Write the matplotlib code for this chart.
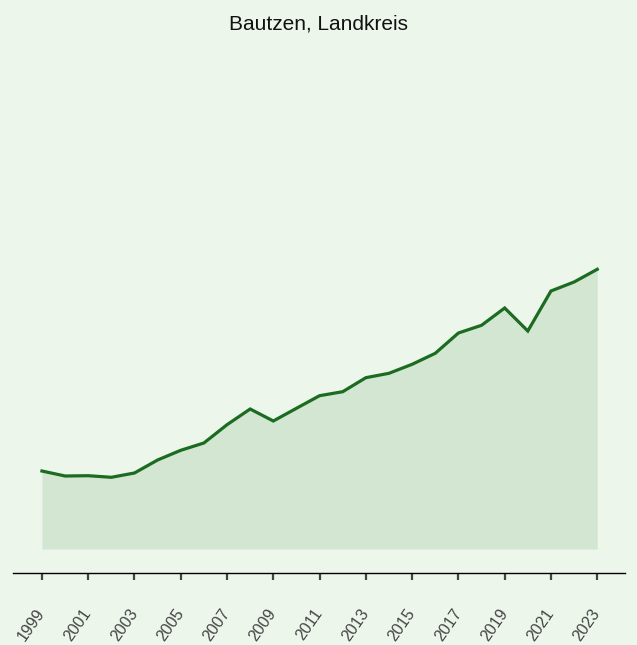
import matplotlib
matplotlib.use("Agg")
import matplotlib.pyplot as plt

plt.rcParams["font.family"] = ["Liberation Sans", "DejaVu Sans"]

# data (relative values)
years = list(range(1999, 2024))
values = [78, 73, 73.3, 71.7, 76, 89, 98.7, 106, 124.3, 140, 128, 140.7,
          153.3, 157.3, 171.3, 175.7, 184.7, 195.7, 216, 223.7, 241, 218,
          258, 267, 279.7]
tick_years = list(range(1999, 2024, 2))

bg = "#ecf6eb"

fig = plt.figure(figsize=(6.37, 6.45), dpi=100, facecolor=bg)
ax = fig.add_axes([13 / 637, 72 / 645, 612 / 637, 523 / 645], facecolor=bg)

ax.fill_between(years, 0, values, color="#d3e6d2", linewidth=0)
ax.plot(years, values, color="#1b6b20", linewidth=2.3, solid_joinstyle="miter")

ax.set_xlim(1997.75, 2024.2)
ax.set_ylim(-24, 499)

for side in ["left", "right", "top"]:
    ax.spines[side].set_visible(False)
ax.spines["bottom"].set_linewidth(1.0)
ax.set_yticks([])

ax.set_xticks(tick_years)
ax.set_xticklabels([str(y) for y in tick_years], rotation=55, ha="right",
                   va="center", rotation_mode="anchor")
ax.tick_params(axis="x", length=5, width=1.6, color="#444444",
               labelcolor="#444444", labelsize=11.5, pad=22)

fig.text(0.5, 1 - 24 / 645, "Bautzen, Landkreis", ha="center", va="center",
         fontsize=15, color="#111111")

fig.savefig("out.png", dpi=100, facecolor=bg)
